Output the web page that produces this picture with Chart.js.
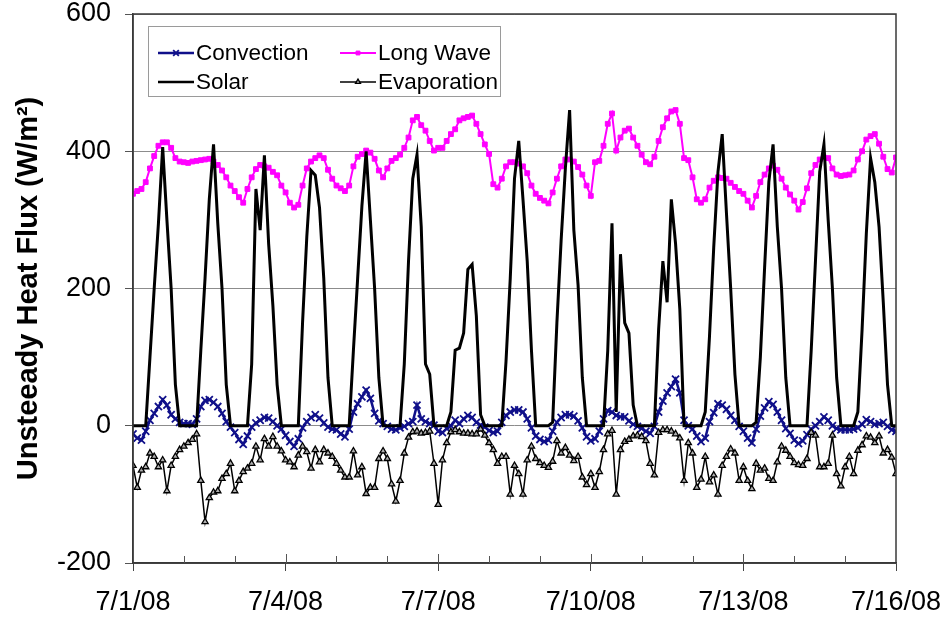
<!DOCTYPE html>
<html>
<head>
<meta charset="utf-8">
<script src="https://cdn.jsdelivr.net/npm/chart.js@4.4.1/dist/chart.umd.min.js"></script>
<style>
  html, body { margin: 0; padding: 0; background: #fff; }
  #wrap { width: 944px; height: 621px; }
</style>
</head>
<body>
<div id="wrap"><canvas id="chart1" width="944" height="621"></canvas></div>
<script>
// tick labels every 3 days (x axis is hours from 7/1/08 00:00)
var dateLabels = ['7/1/08', '7/4/08', '7/7/08', '7/10/08', '7/13/08', '7/16/08'];
var seriesNames = ['Convection', 'Long Wave', 'Solar', 'Evaporation'];

// sample times, every 2 hours
var hours = [];
for (var h = 0; h <= 360; h += 2) hours.push(h);

// W/m2, one row per day (00h .. 22h), last value = 7/16 00h
var convection = [
  -12, -18, -21, -8, 8, 18, 28, 38, 30, 16, 10, 5,
  3, 3, 2, 10, 28, 37, 38, 34, 28, 18, 6, -2,
  -10, -20, -27, -15, -2, 4, 8, 12, 11, 6, 0, -5,
  -14, -23, -30, -19, -3, 6, 12, 16, 11, 4, -2, -5,
  -6, -12, -16, -5, 20, 32, 42, 52, 40, 18, 7, 3,
  -1, -5, -6, -3, -1, 3, 6, 30, 10, 6, 3, 1,
  -8, -10, -4, 0, 8, 3, 10, 15, 12, 5, 1, -2,
  -7, -10, -8, 5, 15, 20, 23, 23, 20, 10, -3, -15,
  -20, -23, -21, -8, 5, 12, 16, 16, 14, 7, -3, -16,
  -22, -19, -8, 10, 22, 20, 15, 13, 13, 7, 2, -1,
  -4, -8, -11, -1, 20, 36, 48, 57, 68, 48, 8, 0,
  -5, -15, -23, -18, 6, 19, 32, 30, 24, 15, 8, -1,
  -8, -18, -25, -5, 14, 26, 35, 31, 20, 8, -4, -11,
  -21, -26, -22, -13, -5, 0, 6, 13, 8, 0, -4, -6,
  -6, -6, -5, -3, 2, 9, 6, 2, 3, 5, -1, -6,
  -8
];

var longWave = [
  338, 342, 345, 355, 375, 393, 408, 413, 413, 405, 390, 385,
  384, 383, 385, 386, 387, 388, 389, 385, 380, 372, 362, 350,
  342, 333, 325, 345, 362, 374, 380, 378, 376, 370, 365, 350,
  340, 325, 318, 322, 350, 375, 385, 390, 394, 390, 373, 360,
  350, 346, 342, 350, 378, 392, 396, 401, 398, 389, 372, 362,
  375, 386, 390, 395, 405, 420, 445, 450, 438, 430, 415, 401,
  405, 405, 415, 425, 432, 445, 448, 450, 452, 440, 425, 410,
  396, 352, 347, 360, 378, 384, 384, 382, 378, 368, 350, 338,
  332, 328, 324, 340, 360, 378, 388, 388, 385, 377, 366, 350,
  335, 384, 386, 408, 440, 455, 401, 420, 430, 433, 420, 408,
  395, 384, 381, 392, 415, 435, 448, 458, 460, 440, 390, 387,
  362, 330, 325, 330, 347, 357, 362, 361, 360, 354, 348, 342,
  338, 328, 318, 335, 355, 366, 375, 379, 373, 360, 347, 337,
  328, 315, 326, 346, 368, 380, 388, 391, 390, 375, 366, 364,
  365, 366, 372, 388, 400, 417, 422, 425, 411, 392, 374, 369,
  391
];

var solar = [
  0, 0, 0, 0, 100, 200, 295, 406, 300, 200, 60, 0,
  0, 0, 0, 0, 110, 215, 330, 410, 295, 200, 60, 0,
  0, 0, 0, 0, 90, 345, 285, 394, 265, 175, 60, 0,
  0, 0, 0, 0, 150, 275, 372, 365, 318, 215, 70, 0,
  0, 0, 0, 0, 110, 215, 320, 400, 300, 200, 70, 0,
  0, 0, 0, 0, 90, 240, 360, 395, 290, 90, 75, 0,
  0, 0, 0, 20, 110, 113, 135, 228, 235, 160, 16, 0,
  0, 0, 0, 0, 94, 215, 360, 415, 330, 240, 110, 0,
  0, 0, 0, 5, 150, 270, 375, 460, 285, 205, 70, 0,
  0, 0, 0, 0, 110, 295, 20, 250, 150, 135, 30, 0,
  0, 0, 0, 0, 140, 240, 180, 330, 265, 170, 0, 0,
  0, 0, 0, 20, 130, 260, 370, 425, 310, 200, 75, 0,
  0, 0, 0, 5, 100, 230, 355, 410, 290, 200, 70, 0,
  0, 0, 0, 0, 110, 240, 370, 410, 300, 200, 70, 0,
  0, 0, 0, 20, 140, 280, 390, 355, 290, 180, 60, 0,
  0
];

var evaporation = [
  -58, -90, -65, -60, -40, -45, -60, -50, -95, -58, -45, -35,
  -30, -25, -20, -12, -80, -140, -105, -97, -95, -77, -70, -55,
  -95, -80, -67, -62, -55, -30, -50, -19, -30, -16, -30, -37,
  -50, -53, -60, -43, -30, -38, -62, -35, -53, -35, -40, -45,
  -55, -65, -75, -75, -37, -72, -60, -99, -90, -90, -48, -37,
  -48, -85, -110, -80, -40, -17, -9, -8, -11, -10, -8, -55,
  -115, -50, -25, -9, -6, -9, -11, -11, -12, -12, -5, -14,
  -25, -35, -55, -45, -45, -100, -58, -70, -100, -50, -30, -48,
  -54, -58, -61, -52, -22, -40, -32, -43, -51, -45, -75, -86,
  -70, -90, -67, -35, -12, -7, -100, -35, -23, -20, -15, -14,
  -16, -22, -55, -72, -10, -6, -6, -8, -12, -18, -80, -25,
  -40, -90, -78, -45, -82, -72, -100, -58, -45, -34, -40, -80,
  -60, -80, -92, -55, -65, -62, -77, -80, -53, -30, -36, -45,
  -54, -57, -58, -48, -10, -14, -60, -60, -55, -14, -70, -88,
  -60, -45, -70, -36, -28, -15, -17, -25, -15, -40, -35, -46,
  -70
];

var NAVY = '#10108a';
var PINK = '#ff00ff';
var FONT = "'Liberation Sans', Arial, sans-serif";

var styles = [
  { color: NAVY, width: 2.5, pointStyle: 'crossRot', radius: 5, fill: NAVY, pbw: 1.8 },
  { color: PINK, width: 2, pointStyle: 'rect', radius: 3.4, fill: PINK, pbw: 1 },
  { color: '#000', width: 3, pointStyle: false, radius: 0, fill: '#000', pbw: 0 },
  { color: '#000', width: 1.5, pointStyle: 'triangle', radius: 3.6, fill: '#b0b0b0', pbw: 1.3 }
];

// boxed 2x2 legend in the top left corner of the plot
var boxLegend = {
  id: 'boxLegend',
  afterDraw: function (chart) {
    var ctx = chart.ctx, a = chart.chartArea;
    var left = a.left + 15, top = a.top + 12;
    ctx.save();
    ctx.fillStyle = '#fff';
    ctx.fillRect(left, top, 352, 70);
    ctx.strokeStyle = '#9a9a9a';
    ctx.lineWidth = 1;
    ctx.strokeRect(left + 0.5, top + 0.5, 352, 70);
    ctx.font = '22.5px ' + FONT;
    ctx.textBaseline = 'middle';
    var cols = [left + 10, left + 192];
    var rows = [top + 27, top + 56];
    for (var i = 0; i < 4; i++) {
      var s = styles[i];
      var x0 = cols[i % 2], y0 = rows[Math.floor(i / 2)];
      ctx.strokeStyle = s.color;
      ctx.lineWidth = Math.min(s.width, 2.5);
      ctx.beginPath();
      ctx.moveTo(x0, y0);
      ctx.lineTo(x0 + 36, y0);
      ctx.stroke();
      if (s.pointStyle) {
        ctx.fillStyle = s.fill;
        ctx.strokeStyle = s.color;
        ctx.lineWidth = s.pbw;
        Chart.helpers.drawPoint(ctx, { pointStyle: s.pointStyle, radius: s.radius * 0.8, borderWidth: s.pbw, rotation: 0 }, x0 + 18, y0);
      }
      ctx.fillStyle = '#000';
      ctx.fillText(seriesNames[i], x0 + 38, y0 + 1);
    }
    ctx.restore();
  }
};

// plot frame plus the small daily ticks on the date axis
var frame = {
  id: 'frame',
  afterDatasetsDraw: function (chart) {
    var ctx = chart.ctx, a = chart.chartArea, xs = chart.scales.x;
    ctx.save();
    ctx.strokeStyle = '#3a3a3a';
    ctx.lineWidth = 1.5;
    ctx.strokeRect(a.left, a.top, a.right - a.left, a.bottom - a.top);
    ctx.lineWidth = 1;
    ctx.strokeStyle = '#555';
    for (var d = 1; d < 15; d++) {
      var px = Math.round(xs.getPixelForValue(d * 24)) + 0.5;
      ctx.beginPath();
      ctx.moveTo(px, a.bottom);
      ctx.lineTo(px, a.bottom - (d % 3 === 0 ? 9 : 7));
      ctx.stroke();
    }
    ctx.restore();
  }
};

var datasets = [convection, longWave, solar, evaporation].map(function (vals, i) {
  var s = styles[i];
  return {
    label: seriesNames[i],
    data: vals,
    borderColor: s.color,
    borderWidth: s.width,
    backgroundColor: s.fill,
    pointStyle: s.pointStyle,
    pointRadius: s.radius,
    pointBorderWidth: s.pbw,
    pointBorderColor: s.color,
    pointBackgroundColor: s.fill,
    tension: 0,
    fill: false,
    order: 4 - i
  };
});

var ctx1 = document.getElementById('chart1').getContext('2d');
var chart1 = new Chart(ctx1, {
  type: 'line',
  data: { labels: hours, datasets: datasets },
  options: {
    responsive: false,
    animation: false,
    events: [],
    layout: { padding: { left: 0, right: 48, top: 14, bottom: 0 } },
    plugins: { legend: { display: false }, tooltip: { enabled: false } },
    scales: {
      x: {
        type: 'linear',
        min: 0,
        max: 360,
        afterFit: function (s) { s.height = 58; s.paddingLeft = 0; s.paddingRight = 0; },
        grid: { drawOnChartArea: false, tickLength: 8, color: '#444', tickColor: '#444' },
        border: { display: true, color: '#3a3a3a', width: 1.5 },
        ticks: {
          stepSize: 72,
          autoSkip: false,
          maxRotation: 0,
          padding: 15,
          color: '#000',
          font: { family: FONT, size: 27 },
          callback: function (v) { return dateLabels[v / 72]; }
        }
      },
      y: {
        min: -200,
        max: 600,
        afterFit: function (s) { s.width = 133; s.paddingTop = 0; s.paddingBottom = 0; },
        grid: { color: '#8c8c8c', lineWidth: 1, tickLength: 8, tickColor: '#555' },
        border: { display: true, color: '#3a3a3a', width: 1.5 },
        ticks: {
          stepSize: 200,
          padding: 14,
          color: '#000',
          font: { family: FONT, size: 27 }
        },
        title: {
          display: true,
          text: 'Unsteeady Heat Flux (W/m\u00B2)',
          color: '#000',
          font: { family: FONT, size: 29, weight: 'bold', lineHeight: 1 },
          padding: { top: 14, bottom: 0 }
        }
      }
    }
  },
  plugins: [frame, boxLegend]
});
</script>
</body>
</html>
